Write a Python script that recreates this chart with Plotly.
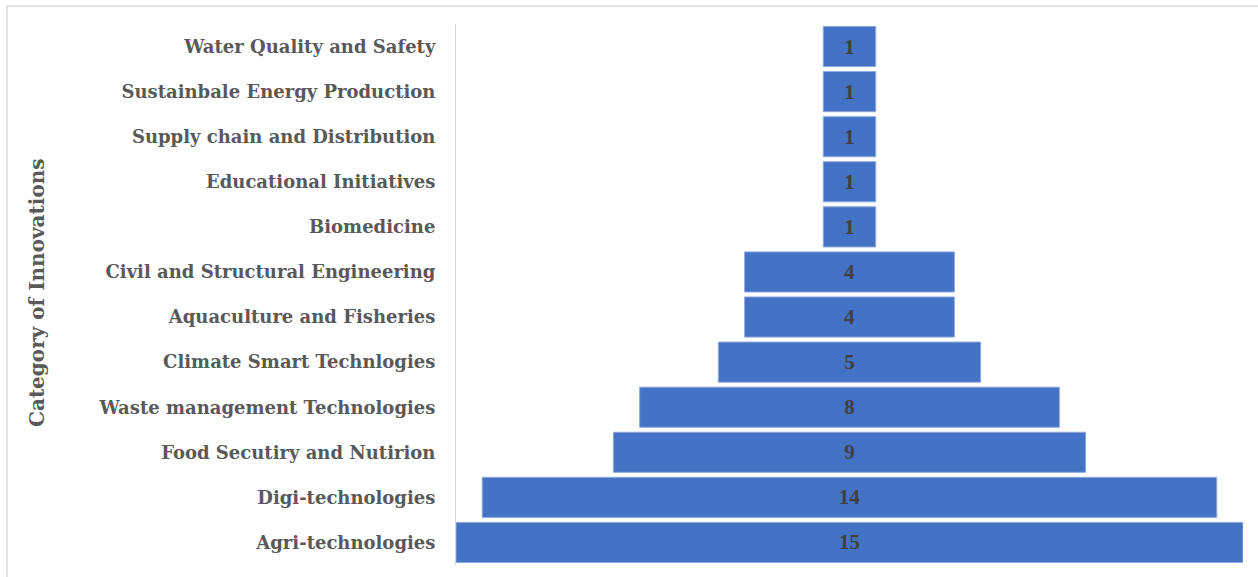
import plotly.graph_objects as go

categories = [
    "Water Quality and Safety",
    "Sustainbale Energy Production",
    "Supply chain and Distribution",
    "Educational Initiatives",
    "Biomedicine",
    "Civil and Structural Engineering",
    "Aquaculture and Fisheries",
    "Climate Smart Technlogies",
    "Waste management Technologies",
    "Food Secutiry and Nutirion",
    "Digi-technologies",
    "Agri-technologies",
]
counts = [1, 1, 1, 1, 1, 4, 4, 5, 8, 9, 14, 15]

FONT = "DejaVu Serif"
L, R, T, B = 456, 15, 24, 12
PW = 1258 - L - R
PH = 577 - T - B

fig = go.Figure(go.Funnel(
    y=categories,
    x=counts,
    textinfo="value",
    textposition="inside",
    insidetextfont=dict(family="Liberation Serif", size=21, color="#404040", weight="bold"),
    marker=dict(color="#4472C4", line=dict(color="#8FAADC", width=1)),
    connector=dict(visible=False),
    hoverinfo="y+x",
))

fig.update_layout(
    width=1258, height=577,
    margin=dict(l=L, r=R, t=T, b=B),
    paper_bgcolor="white", plot_bgcolor="white",
    funnelgap=0.11,
    showlegend=False,
    font=dict(family=FONT),
    xaxis=dict(visible=False, range=[-7.5, 7.5]),
    yaxis=dict(
        showline=True, linecolor="#D9D9D9", linewidth=1,
        showgrid=False, ticks="", ticklabelstandoff=16,
        tickfont=dict(family=FONT, size=18, color="#595959", weight="bold"),
    ),
)
fig.add_annotation(
    text="Category of Innovations", textangle=-90,
    xref="paper", yref="paper",
    x=(37 - L) / PW, y=(577 - B - 293) / PH,
    xanchor="center", yanchor="middle", showarrow=False,
    font=dict(family=FONT, size=20, color="#595959", weight="bold"),
)
# outer chart frame (light grey)
fig.add_shape(type="rect", xref="paper", yref="paper",
              x0=(7 - L) / PW, x1=(1262 - L) / PW,
              y0=(577 - B - 600) / PH, y1=(577 - B - 6) / PH,
              line=dict(color="#D9D9D9", width=1.5), layer="below")

fig.write_html("out.html")
